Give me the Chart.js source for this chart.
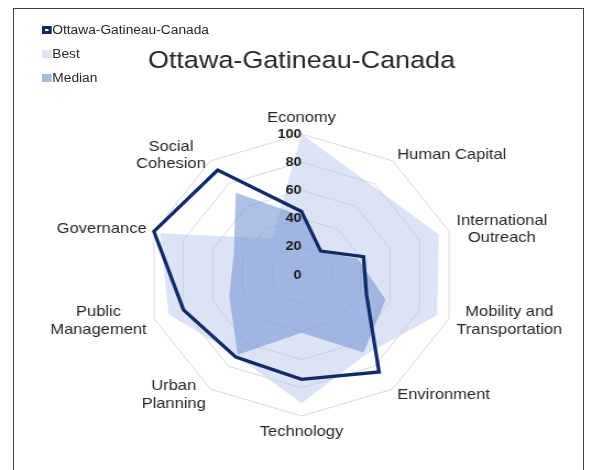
<!DOCTYPE html>
<html>
<head>
<meta charset="utf-8">
<script src="https://cdn.jsdelivr.net/npm/chart.js@4.4.1/dist/chart.umd.min.js"></script>
<style>
  html, body { margin: 0; padding: 0; background: #fff; }
  body { width: 592px; height: 470px; overflow: hidden; position: relative; font-family: "Liberation Sans", Arial, sans-serif; }
  #frame { position: absolute; left: 13px; top: 8px; width: 571px; height: 480px; border: 1.5px solid #404040; box-sizing: border-box; }
  /* the reference picture is stretched sideways, so the chart is too */
  #stretch { position: absolute; left: 0; top: 0; width: 538px; height: 470px; transform: scaleX(1.1004); transform-origin: 0 0; }
  #legend { position: absolute; left: 38px; top: 0; font-size: 12.5px; color: #262626; }
  .item { position: absolute; left: 0; white-space: nowrap; height: 14px; line-height: 14px; }
  .swatch { position: absolute; left: 0; top: 3px; width: 8.5px; height: 8.5px; box-sizing: border-box; }
  .item .t { position: absolute; left: 9.5px; top: 0; }
</style>
</head>
<body>
<div id="frame"></div>
<div id="stretch">
  <canvas id="radar" width="538" height="470"></canvas>
  <div id="legend"></div>
</div>
<script>
// data
var categories = [
  ["Economy"], ["Human Capital"], ["International", "Outreach"],
  ["Mobility and", "Transportation"], ["Environment"], ["Technology"],
  ["Urban", "Planning"], ["Public", "Management"], ["Governance"],
  ["Social", "Cohesion"]
];
var ottawa = [45, 21, 42, 44, 85, 74, 72, 80, 100, 92];
var best   = [100, 78, 93, 92, 70, 91, 71, 90, 96, 32];
var median = [42, 20, 38, 57, 68, 41, 70, 49, 46, 72];
var tickValues = [0, 20, 40, 60, 80, 100];

var seriesNames = ["Ottawa-Gatineau-Canada", "Best", "Median"];
var navy = "#102a68";
var bestFill = "rgba(185, 200, 235, 0.5)";
var medianFill = "rgba(120, 150, 210, 0.6)";
var textColor = "#262626";

Chart.defaults.font.family = '"Liberation Sans", Arial, sans-serif';
Chart.defaults.color = textColor;

// category names round the web, placed from the scale's own point positions
var axisLabels = {
  id: "axisLabels",
  afterDraw: function(chart) {
    var scale = chart.scales.r;
    var ctx = chart.ctx;
    var n = chart.data.labels.length;
    var lh = 17.5;
    ctx.save();
    ctx.font = '15px "Liberation Sans", Arial, sans-serif';
    ctx.fillStyle = textColor;
    ctx.textAlign = "center";
    ctx.textBaseline = "middle";
    chart.data.labels.forEach(function(label, i) {
      var lines = [].concat(label);
      var p = scale.getPointPosition(i, scale.drawingArea + 7);
      var w = Math.max.apply(null, lines.map(function(t) { return ctx.measureText(t).width; }));
      var h = lines.length * lh;
      var deg = Math.round(i * 360 / n);
      var cx = p.x, cy = p.y;
      if (deg === 0) cy -= h / 2;
      else if (deg === 180) cy += h / 2;
      else if (deg < 180) cx += w / 2;
      else cx -= w / 2;
      lines.forEach(function(t, k) {
        ctx.fillText(t, cx, cy - h / 2 + lh * (k + 0.5));
      });
    });
    ctx.restore();
  }
};

new Chart(document.getElementById("radar"), {
  type: "radar",
  data: {
    labels: categories,
    datasets: [
      {
        label: seriesNames[0],
        data: ottawa,
        borderColor: navy,
        borderWidth: 3.3,
        borderJoinStyle: "miter",
        fill: false,
        order: 0
      },
      {
        label: seriesNames[1],
        data: best,
        backgroundColor: bestFill,
        borderWidth: 0,
        fill: true,
        order: 2
      },
      {
        label: seriesNames[2],
        data: median,
        backgroundColor: medianFill,
        borderWidth: 0,
        fill: true,
        order: 1
      }
    ]
  },
  options: {
    responsive: false,
    animation: false,
    devicePixelRatio: 1,
    layout: { padding: { top: 0, left: 30, right: 20, bottom: 47.5 } },
    elements: { point: { radius: 0, hoverRadius: 0 }, line: { tension: 0 } },
    plugins: {
      legend: { display: false },
      tooltip: { enabled: false },
      title: {
        display: true,
        text: seriesNames[0],
        color: textColor,
        font: { size: 24.5, weight: "normal" },
        padding: { top: 46.7, bottom: 51.4 }
      }
    },
    scales: {
      r: {
        min: -0.001,
        max: tickValues[tickValues.length - 1],
        angleLines: { display: false },
        grid: { color: "#d9d9d9", lineWidth: 1 },
        pointLabels: { display: false },
        ticks: {
          stepSize: tickValues[1] - tickValues[0],
          showLabelBackdrop: false,
          backdropPadding: 0,
          z: 1,
          color: "#1a1a1a",
          font: { size: 13, weight: "bold" },
          callback: function(v) {
            var s = String(Math.round(v));
            return s + " ".repeat(2 * s.length);
          }
        }
      }
    }
  },
  plugins: [axisLabels]
});

// legend, built from the series names and colours
var swatches = [
  "background:#fff;border:3px solid " + navy + ";",
  "background:#dde3f3;",
  "background:#a9bbe4;"
];
var legendTops = [22.7, 46.8, 70.7];
var legend = document.getElementById("legend");
seriesNames.forEach(function(name, i) {
  var item = document.createElement("div");
  item.className = "item";
  item.style.top = legendTops[i] + "px";
  item.innerHTML = '<div class="swatch" style="' + swatches[i] + '"></div><span class="t"></span>';
  item.querySelector(".t").textContent = name;
  legend.appendChild(item);
});
</script>
</body>
</html>
